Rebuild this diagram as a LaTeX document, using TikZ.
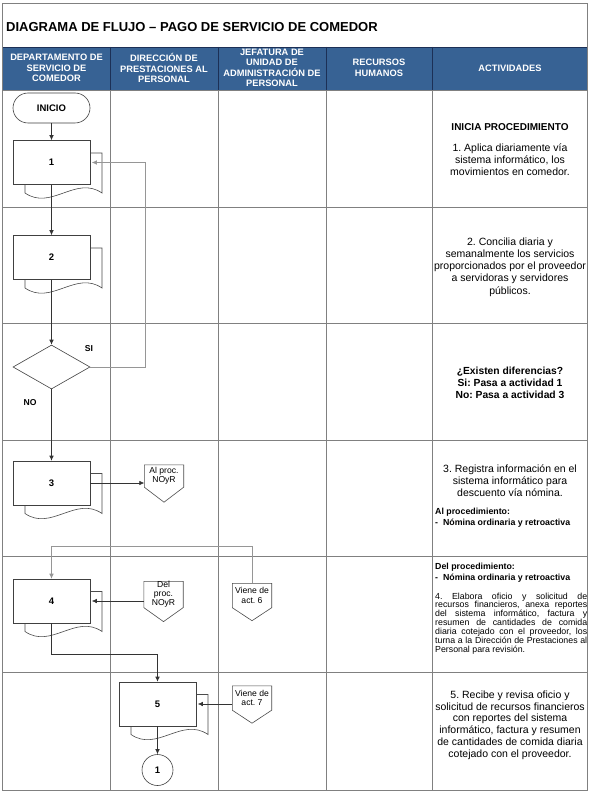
\documentclass[tikz,border=0pt]{standalone}
\usepackage{fontspec}
\setmainfont{Liberation Sans}
\usetikzlibrary{shapes.geometric,arrows.meta,calc}
\definecolor{hdrblue}{RGB}{55,98,148}
\definecolor{hdrline}{RGB}{28,48,86}
\definecolor{gridgray}{RGB}{128,128,128}
\definecolor{loopgray}{RGB}{150,150,150}
\newcommand\opgshape[2]{\draw[offline] (#1.north west) -- (#1.north east) -- (#1.south east) -- ($(#1.south)+(0,#2)$) -- (#1.south west) -- cycle;}
\frenchspacing
\begin{document}
\begin{tikzpicture}[x=1pt,y=-1pt,
  gridline/.style={draw=gridgray,line width=0.7pt},
  flow/.style={draw=black!80,line width=0.6pt},
  arr/.style={flow,-{Latex[length=5pt,width=4.5pt]}},
  looparr/.style={arr,draw=loopgray},
  offline/.style={draw=black!70,line width=0.6pt,fill=white},
  docb/.style={draw=black!70,line width=0.6pt,fill=white},
  proc/.style={draw=black!75,fill=white,line width=0.6pt,minimum width=77pt,minimum height=44pt,inner sep=0pt,font=\bfseries\fontsize{9.5}{11}\selectfont},
  term/.style={proc,minimum height=30pt,rounded corners=15pt},
  decision/.style={draw=black!75,fill=white,line width=0.6pt,diamond,minimum width=77pt,minimum height=44pt,inner sep=0pt,aspect=1.75},
  offpg/.style={minimum width=39pt,inner sep=0pt,align=center,font=\fontsize{8.6}{9.4}\selectfont},
  hdr/.style={text=white,align=center,font=\bfseries\fontsize{9.3}{10.4}\selectfont},
  act/.style={align=center,font=\fontsize{10.5}{12.2}\selectfont},
  actb/.style={align=center,font=\bfseries\fontsize{10.3}{12}\selectfont},
  small/.style={anchor=north west,align=left,inner sep=0pt,font=\fontsize{8.8}{8.9}\selectfont\frenchspacing},
  lbl/.style={font=\bfseries\fontsize{8.6}{10}\selectfont},
  docback/.pic={\draw[docb] (-26.5,-9.5) -- (50.5,-9.5) -- (50.5,30.5) .. controls (24.5,12.5) and (-0.5,48.5) .. (-26.5,30.5) -- cycle;}
]
\useasboundingbox (0,0) rectangle (590,794);
\fill[white] (0,0) rectangle (590,794);

% header band and grid
\fill[hdrblue] (2.5,47) rectangle (587.5,90);
\draw[hdrline,line width=0.7pt] (2.5,47) -- (587.5,47);
\foreach \x in {110,218,326,432} {\draw[hdrline,line width=0.7pt] (\x,47) -- (\x,90);}
\foreach \x in {110,218,326,432} {\draw[gridline] (\x,90) -- (\x,790);}
\foreach \y in {90,207,323,440,556,672} {\draw[gridline] (2.5,\y) -- (587.5,\y);}
\draw[gridline] (2.5,3) rectangle (587.5,790);

% title
\node[anchor=west,inner sep=0pt,font=\bfseries\fontsize{13}{15}\selectfont] (title) at (6,27) {DIAGRAMA DE FLUJO -- PAGO DE SERVICIO DE COMEDOR};

% header texts
\node[hdr] (h1) at (56.5,68) {DEPARTAMENTO DE\\SERVICIO DE\\COMEDOR};
\node[hdr] (h2) at (164,68) {DIRECCIÓN DE\\PRESTACIONES AL\\PERSONAL};
\node[hdr] (h3) at (272,68) {JEFATURA DE\\UNIDAD DE\\ADMINISTRACIÓN DE\\PERSONAL};
\node[hdr] (h4) at (379,68) {RECURSOS\\HUMANOS};
\node[hdr] (h5) at (510,68) {ACTIVIDADES};

% flow shapes
\node[term] (ini) at (51.5,108) {INICIO};
\pic at (51.5,162.5) {docback};
\node[proc] (d1) at (51.5,162.5) {1};
\pic at (51.5,257.5) {docback};
\node[proc] (d2) at (51.5,257.5) {2};
\node[decision] (dec) at (51.5,367) {};
\pic at (51.5,483) {docback};
\node[proc] (d3) at (51.5,483) {3};
\pic at (51.5,601) {docback};
\node[proc] (d4) at (51.5,601) {4};
\pic at (157.5,704) {docback};
\node[proc] (d5) at (157.5,704) {5};
\node[draw=black!75,line width=0.6pt,circle,minimum size=31pt,inner sep=0pt,font=\bfseries\fontsize{9.5}{11}\selectfont] (c1) at (157.5,770) {1};

% off-page connectors
\node[offpg,minimum height=22pt] (al) at (164,476) {Al proc.\\NOyR};
\opgshape{al}{15}
\node[offpg] (al) at (164,476) {Al proc.\\NOyR};
\node[offpg,minimum height=23pt,font=\fontsize{8.6}{8.9}\selectfont] (dp) at (163.5,594.5) {Del\\proc.\\NOyR};
\opgshape{dp}{14}
\node[offpg,minimum height=23pt,font=\fontsize{8.6}{8.9}\selectfont] (dp) at (163.5,594.5) {Del\\proc.\\NOyR};
\node[offpg,minimum height=24pt] (v6) at (252,595.5) {Viene de\\act. 6};
\opgshape{v6}{13}
\node[offpg,minimum height=24pt] (v6) at (252,595.5) {Viene de\\act. 6};
\node[offpg,minimum height=24pt] (v7) at (252,698) {Viene de\\act. 7};
\opgshape{v7}{13}
\node[offpg,minimum height=24pt] (v7) at (252,698) {Viene de\\act. 7};

% junction coordinates
\coordinate (lp) at (145,162.5);
\coordinate (j6) at (51.5,546);
\coordinate (j45) at (157.5,654);

% connectors
\draw[arr] (ini) -- (d1);
\draw[arr] (d1) -- (d2);
\draw[arr] (d2) -- (dec);
\draw[looparr,shorten >=1.5pt] (dec.east) -| (lp) -- (d1.east);
\draw[arr] (dec) -- (d3);
\draw[arr] (d3.east) -- (d3.east -| al.west);
\draw[looparr] (v6.north) |- (j6) -- (d4.north);
\draw[arr,shorten >=1.5pt] (dp.west |- d4.east) -- (d4.east);
\draw[arr] (d4.south) |- (j45) -- (d5.north);
\draw[arr,shorten >=1.5pt] (v7.west |- d5.east) -- (d5.east);
\draw[arr] (d5) -- (c1);

\node[lbl] (si) at (89,349) {SI};
\node[lbl] (no) at (30,403) {NO};

% activities
\node[actb,font=\bfseries\fontsize{10}{12}\selectfont] (a0) at (510,127) {INICIA PROCEDIMIENTO};
\node[act] (a1) at (510,159.5) {1. Aplica diariamente vía\\sistema informático, los\\movimientos en comedor.};
\node[act] (a2) at (510,267) {2. Concilia diaria y\\semanalmente los servicios\\proporcionados por el proveedor\\a servidoras y servidores\\públicos.};
\node[actb] (a3) at (510,382.5) {¿Existen diferencias?\\Si: Pasa a actividad 1\\No: Pasa a actividad 3};
\node[act] (a4) at (510,480.5) {3. Registra información en el\\sistema informático para\\descuento vía nómina.};
\node[small,font=\bfseries\fontsize{8.8}{11}\selectfont] (a5) at (435,508) {Al procedimiento:\\-\ \ Nómina ordinaria y retroactiva};
\node[small,font=\bfseries\fontsize{8.8}{11}\selectfont] (a6) at (435,562.5) {Del procedimiento:\\-\ \ Nómina ordinaria y retroactiva};
\node[small] (a7) at (435,592.5) {\makebox[152pt][s]{4. Elabora oficio y solicitud de}\\
\makebox[152pt][s]{recursos financieros, anexa reportes}\\
\makebox[152pt][s]{del sistema informático, factura y}\\
\makebox[152pt][s]{resumen de cantidades de comida}\\
\makebox[152pt][s]{diaria cotejado con el proveedor, los}\\
\makebox[152pt][s]{turna a la Dirección de Prestaciones al}\\
Personal para revisión.};
\node[act,font=\fontsize{10.5}{11.8}\selectfont] (a8) at (510,725) {5. Recibe y revisa oficio y\\solicitud de recursos financieros\\con reportes del sistema\\informático, factura y resumen\\de cantidades de comida diaria\\cotejado con el proveedor.};
\end{tikzpicture}
\end{document}
